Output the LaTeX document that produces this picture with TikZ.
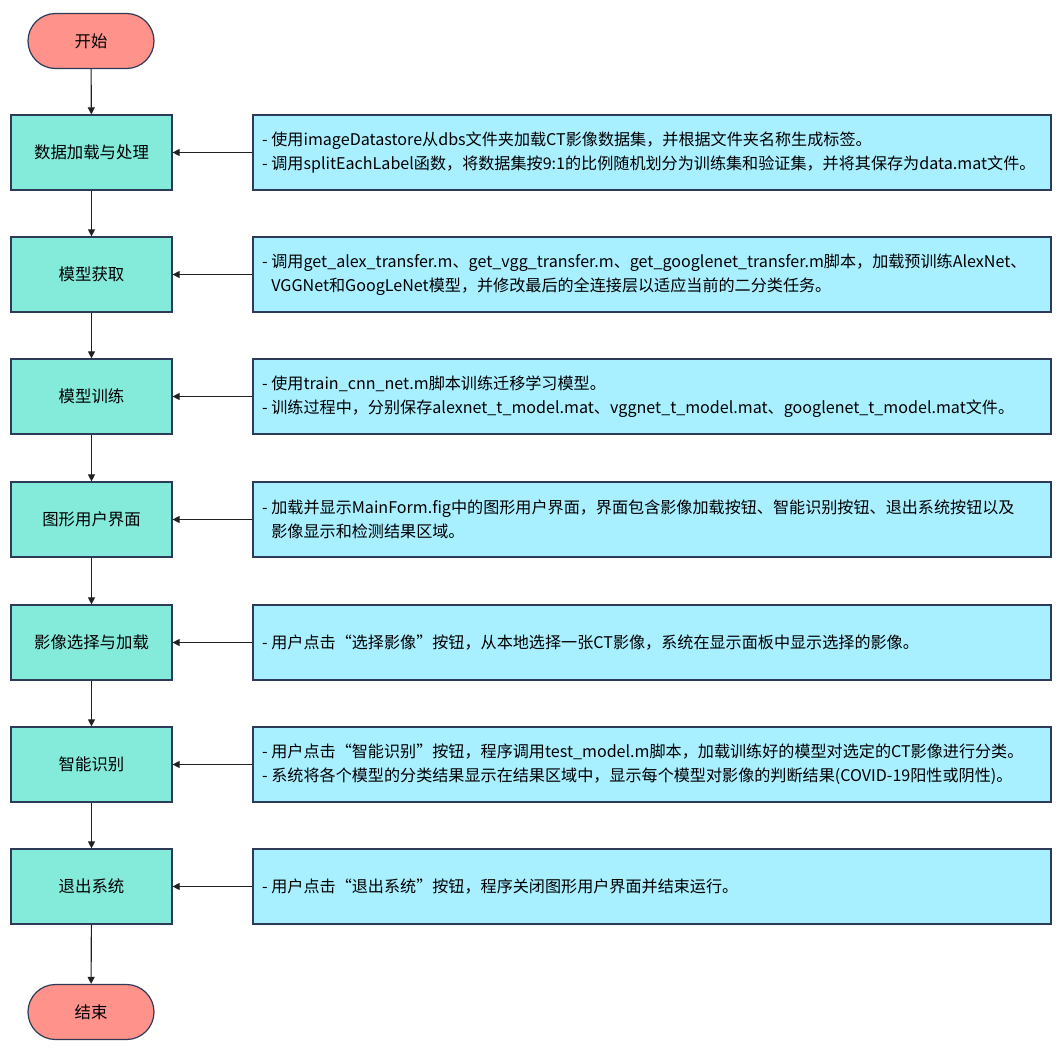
\documentclass[tikz,border=0pt]{standalone}
\usepackage{fontspec}
\setmainfont{Noto Sans CJK SC}
\usetikzlibrary{arrows.meta,shapes.misc}
\definecolor{termfill}{HTML}{FF928A}
\definecolor{stepfill}{HTML}{84EBDB}
\definecolor{notefill}{HTML}{A8EFFF}
\definecolor{edge}{HTML}{2E3B58}
\definecolor{linecol}{HTML}{222222}
\begin{document}
\begin{tikzpicture}[x=1pt,y=-1pt,
  term/.style={rounded rectangle, draw=edge, line width=1.2pt, fill=termfill, minimum width=126pt, minimum height=55pt, inner sep=0pt, font=\fontsize{16.4}{20}\selectfont},
  stepbox/.style={rectangle, draw=edge, line width=1.2pt, fill=stepfill, minimum width=161pt, minimum height=75pt, inner sep=0pt, font=\fontsize{16.4}{20}\selectfont},
  notebox/.style={rectangle, draw=edge, line width=1.2pt, fill=notefill, minimum width=798pt, minimum height=75pt, inner sep=0pt},
  notetext/.style={anchor=west, align=left, inner sep=0pt, font=\fontsize{16.1}{24}\selectfont},
  arr/.style={draw=linecol, line width=1.1pt, -{Triangle[length=7pt,width=7pt]}}
]
\useasboundingbox (0,0) rectangle (1063,1055);
\node[term] (start) at (91,41) {开始};
\node[term] (end) at (91,1012) {结束};

\node[stepbox] (s1) at (91.5,152.5) {数据加载与处理};
\node[stepbox] (s2) at (91.5,274.5) {模型获取};
\node[stepbox] (s3) at (91.5,396.5) {模型训练};
\node[stepbox] (s4) at (91.5,519.5) {图形用户界面};
\node[stepbox] (s5) at (91.5,642.5) {影像选择与加载};
\node[stepbox] (s6) at (91.5,764.5) {智能识别};
\node[stepbox] (s7) at (91.5,886.5) {退出系统};

\node[notebox] (n1) at (652,152.5) {};
\node[notebox] (n2) at (652,274.5) {};
\node[notebox] (n3) at (652,396.5) {};
\node[notebox] (n4) at (652,519.5) {};
\node[notebox] (n5) at (652,642.5) {};
\node[notebox] (n6) at (652,764.5) {};
\node[notebox] (n7) at (652,886.5) {};

\node[notetext] (t1) at (262,152.5) {- 使用imageDatastore从dbs文件夹加载CT影像数据集，并根据文件夹名称生成标签。\\- 调用splitEachLabel函数，将数据集按9:1的比例随机划分为训练集和验证集，并将其保存为data.mat文件。};
\node[notetext] (t2) at (262,274.5) {- 调用get\_alex\_transfer.m、get\_vgg\_transfer.m、get\_googlenet\_transfer.m脚本，加载预训练AlexNet、\\\phantom{- }VGGNet和GoogLeNet模型，并修改最后的全连接层以适应当前的二分类任务。};
\node[notetext] (t3) at (262,396.5) {- 使用train\_cnn\_net.m脚本训练迁移学习模型。\\- 训练过程中，分别保存alexnet\_t\_model.mat、vggnet\_t\_model.mat、googlenet\_t\_model.mat文件。};
\node[notetext] (t4) at (262,519.5) {- 加载并显示MainForm.fig中的图形用户界面，界面包含影像加载按钮、智能识别按钮、退出系统按钮以及\\\phantom{- }影像显示和检测结果区域。};
\node[notetext] (t5) at (262,642.5) {- 用户点击“选择影像”按钮，从本地选择一张CT影像，系统在显示面板中显示选择的影像。};
\node[notetext] (t6) at (262,764.5) {- 用户点击“智能识别”按钮，程序调用test\_model.m脚本，加载训练好的模型对选定的CT影像进行分类。\\- 系统将各个模型的分类结果显示在结果区域中，显示每个模型对影像的判断结果(COVID-19阳性或阴性)。};
\node[notetext] (t7) at (262,886.5) {- 用户点击“退出系统”按钮，程序关闭图形用户界面并结束运行。};

\draw[arr] (start) -- (s1);
\draw[arr] (s1) -- (s2);
\draw[arr] (s2) -- (s3);
\draw[arr] (s3) -- (s4);
\draw[arr] (s4) -- (s5);
\draw[arr] (s5) -- (s6);
\draw[arr] (s6) -- (s7);
\draw[arr] (s7) -- (end);

\foreach \i in {1,...,7} {\draw[arr] (n\i) -- (s\i);}
\end{tikzpicture}
\end{document}
